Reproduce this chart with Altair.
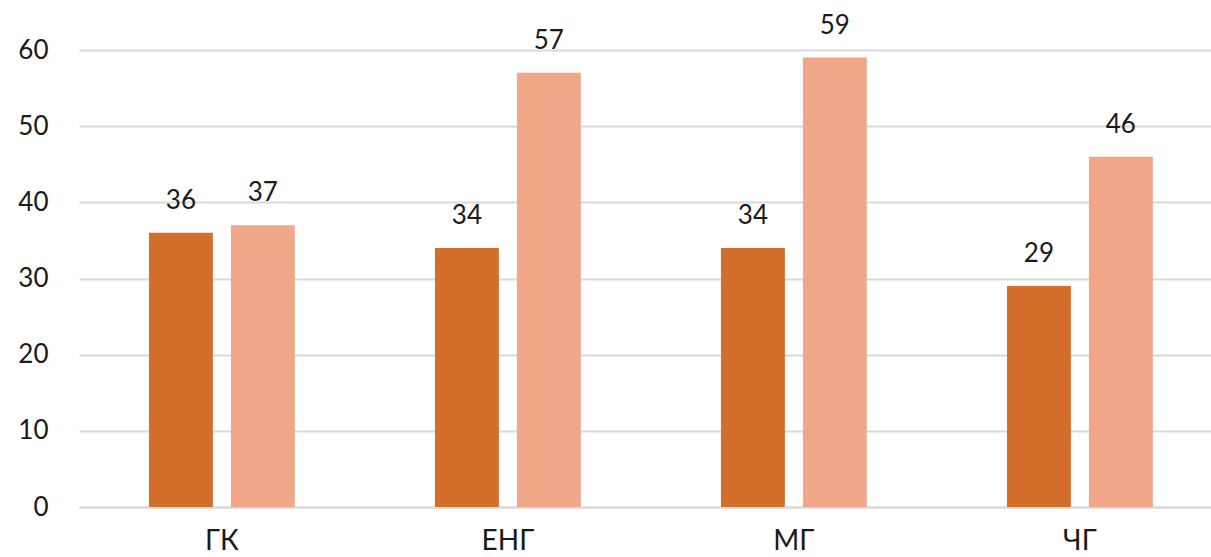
import altair as alt
import pandas as pd

categories = ["ГК", "ЕНГ", "МГ", "ЧГ"]
series_names = ["Серия 1", "Серия 2"]
series1 = [36, 34, 34, 29]
series2 = [37, 57, 59, 46]
colors = ["#D36F2B", "#F0A888"]
y_ticks = [0, 10, 20, 30, 40, 50, 60]

rows = []
for c, a, b in zip(categories, series1, series2):
    rows.append({"cat": c, "series": series_names[0], "value": a})
    rows.append({"cat": c, "series": series_names[1], "value": b})
df = pd.DataFrame(rows)

FONT = "Lato"

x = alt.X("cat:N", sort=categories, title=None,
          scale=alt.Scale(paddingInner=0.49, paddingOuter=0.224, align=0.546),
          axis=alt.Axis(labelAngle=0, labelFontSize=28, labelFont=FONT, labelColor="#1a1a1a",
                        labelPadding=20, ticks=False, domain=True, domainColor="#D9D9D9",
                        domainWidth=2, labelBaseline="top", grid=False))
xo = alt.XOffset("series:N", sort=series_names,
                 scale=alt.Scale(paddingInner=0.22, paddingOuter=0))
y = alt.Y("value:Q", title=None,
          scale=alt.Scale(domain=[0, 60], nice=False),
          axis=alt.Axis(values=y_ticks, labelFontSize=26, labelFont=FONT, labelColor="#1a1a1a",
                        labelPadding=31, ticks=False, domain=False, grid=True,
                        gridColor="#D9D9D9", gridWidth=2))
color = alt.Color("series:N", sort=series_names,
                  scale=alt.Scale(domain=series_names, range=colors), legend=None)

base = alt.Chart(df)
bars = base.mark_bar().encode(x=x, xOffset=xo, y=y, color=color)
labels = base.mark_text(baseline="bottom", dy=-19, fontSize=26, font=FONT, color="#1a1a1a").encode(
    x=x, xOffset=xo, y=y, text=alt.Text("value:Q"))

chart = (bars + labels).properties(
    width=1132, height=457,
    background="white",
    autosize=alt.AutoSizeParams(type="none"),
    padding={"left": 79, "top": 50, "right": 0, "bottom": 50},
).configure_view(strokeWidth=0, stroke="transparent")

chart.save("out.html", embed_options={"renderer": "svg", "actions": False})
